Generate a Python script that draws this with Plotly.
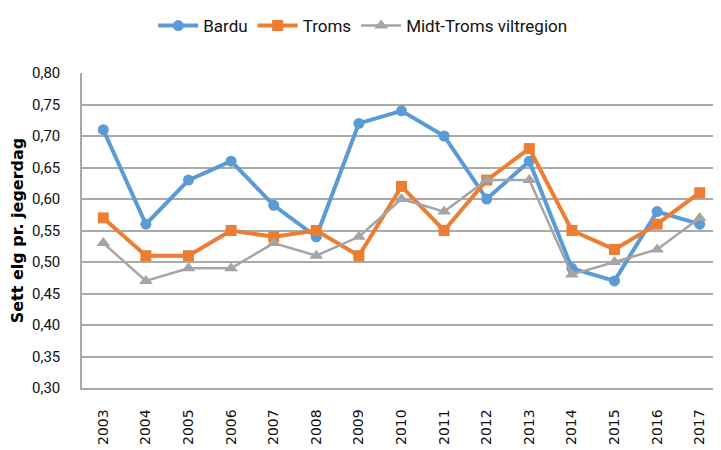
import plotly.graph_objects as go

years = [str(y) for y in range(2003, 2018)]
bardu = [0.71, 0.56, 0.63, 0.66, 0.59, 0.54, 0.72, 0.74, 0.70, 0.60, 0.66, 0.49, 0.47, 0.58, 0.56]
troms = [0.57, 0.51, 0.51, 0.55, 0.54, 0.55, 0.51, 0.62, 0.55, 0.63, 0.68, 0.55, 0.52, 0.56, 0.61]
midt = [0.53, 0.47, 0.49, 0.49, 0.53, 0.51, 0.54, 0.60, 0.58, 0.63, 0.63, 0.48, 0.50, 0.52, 0.57]

fig = go.Figure()
fig.add_trace(go.Scatter(x=years, y=bardu, name="Bardu", mode="lines+markers",
                         line=dict(color="#5B9BD5", width=4),
                         marker=dict(symbol="circle", size=11, color="#5B9BD5")))
fig.add_trace(go.Scatter(x=years, y=troms, name="Troms", mode="lines+markers",
                         line=dict(color="#ED7D31", width=4),
                         marker=dict(symbol="square", size=11, color="#ED7D31")))
fig.add_trace(go.Scatter(x=years, y=midt, name="Midt-Troms viltregion", mode="lines+markers",
                         line=dict(color="#A5A5A5", width=2.5),
                         marker=dict(symbol="triangle-up", size=12, color="#A5A5A5")))

fig.update_layout(
    width=721, height=450,
    margin=dict(l=74, r=8, t=65, b=70),
    paper_bgcolor="white", plot_bgcolor="white",
    separators=",.",
    font=dict(family="Roboto, sans-serif", size=16, color="#111111"),
    legend=dict(orientation="h", x=0.492, y=1.0, xanchor="center", yanchor="top",
                xref="container", yref="container", font=dict(size=17), itemwidth=40, tracegroupgap=0),
    showlegend=True,
)
fig.update_xaxes(type="category", tickangle=-90, showgrid=False, automargin=False,
                 showline=True, linecolor="#AAAAAA", linewidth=1.5,
                 tickfont=dict(family="DejaVu Sans, sans-serif", size=14, color="#111111"),
                 ticks="", range=[-0.5, 14.5], ticklabelstandoff=14)
fig.update_yaxes(range=[0.30, 0.80], dtick=0.05, tickformat=".2f", automargin=False,
                 showgrid=True, gridcolor="#AAAAAA", gridwidth=1.5,
                 showline=True, linecolor="#AAAAAA", linewidth=1.5,
                 zeroline=False, ticks="", ticklabelstandoff=17,
                 tickfont=dict(size=15),
                 title=dict(text="<b>Sett elg pr. jegerdag</b>",
                            font=dict(family="DejaVu Sans, sans-serif", size=16, color="#000000"),
                            standoff=8))

fig.write_html("out.html")
